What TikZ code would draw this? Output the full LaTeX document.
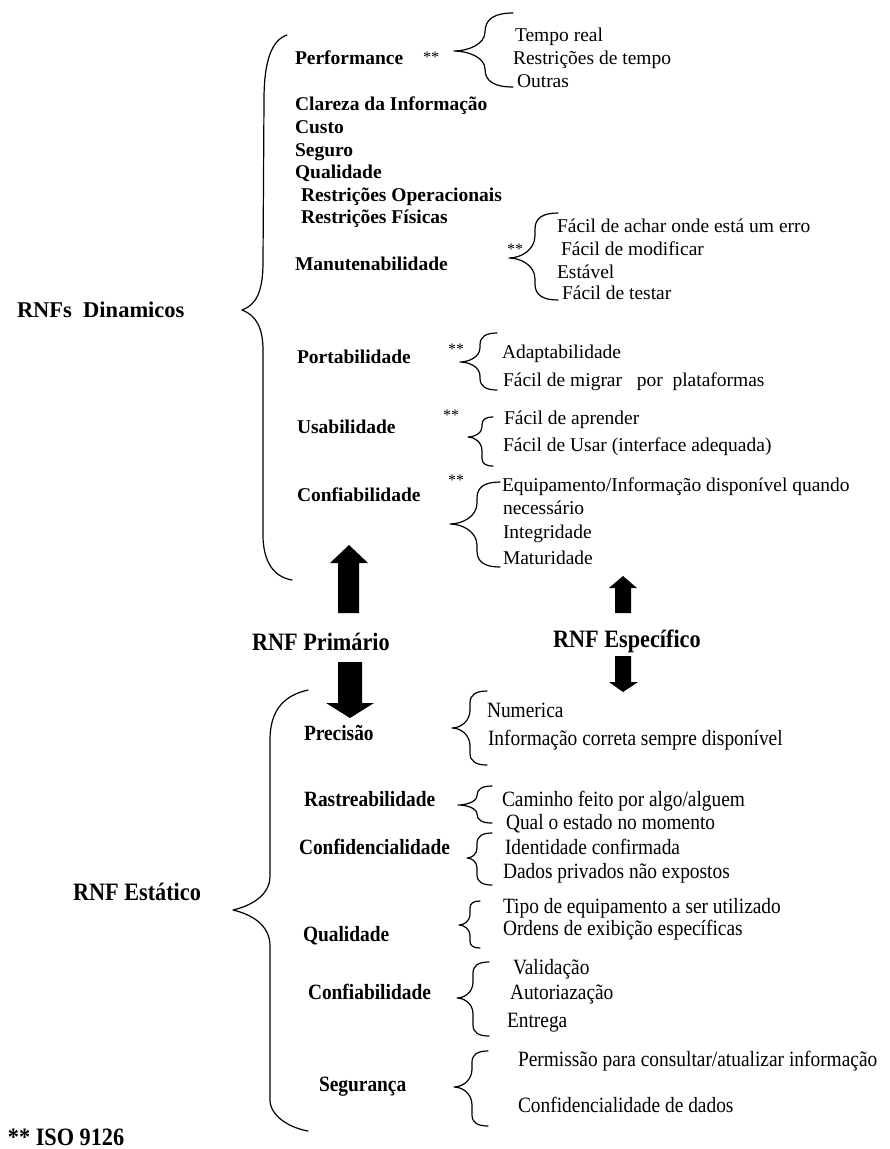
\documentclass[tikz,border=0pt]{standalone}
\usepackage{fontspec}
\setmainfont{Liberation Serif}
\newfontfamily\condserif[FakeStretch=0.89]{Liberation Serif}
\newcommand\drawbrace[6]{% xe, ytop, xvert, xtip, ymid, ybot
  \pgfmathsetmacro\brBW{#1-#3}%
  \pgfmathsetmacro\brTW{#3-#4}%
  \pgfmathsetmacro\brCA{min(0.7*\brBW,(#5-#2)/2)}%
  \pgfmathsetmacro\brCB{min(0.7*\brBW,(#6-#5)/2)}%
  \pgfmathsetmacro\brTA{min(\brTW,(#5-#2)/2)}%
  \pgfmathsetmacro\brTB{min(\brTW,(#6-#5)/2)}%
  \draw[bracestyle] (#1,#2) .. controls (#3+0.35*\brBW,#2) and (#3,#2+0.3*\brCA) .. (#3,#2+\brCA)
    -- (#3,#5-\brTA) .. controls (#3,#5-0.35*\brTA) and (#4+0.45*\brTW,#5) .. (#4,#5)
    .. controls (#4+0.45*\brTW,#5) and (#3,#5+0.35*\brTB) .. (#3,#5+\brTB)
    -- (#3,#6-\brCB) .. controls (#3,#6-0.3*\brCB) and (#3+0.35*\brBW,#6) .. (#1,#6);
}
\begin{document}
\begin{tikzpicture}[x=1pt,y=-1pt,
  item/.style={anchor=base west, inner sep=0pt, outer sep=0pt, font=\fontsize{19.5}{23}\selectfont},
  cat/.style={item, font=\bfseries\fontsize{19.5}{23}\selectfont},
  head/.style={item, font=\bfseries\fontsize{22.5}{27}\selectfont},
  star/.style={item, font=\fontsize{16}{18}\selectfont},
  bitem/.style={item, font=\condserif\fontsize{21.8}{26}\selectfont},
  bcat/.style={item, font=\condserif\bfseries\fontsize{21.8}{26}\selectfont},
  bhead/.style={item, font=\condserif\bfseries\fontsize{25}{30}\selectfont},
  bracestyle/.style={line width=1.2pt, line cap=round, line join=round},
  blockarrow/.style={fill=black, draw=none}]
\useasboundingbox (0,0) rectangle (890,1149);

% ---------- RNFs Dinamicos ----------
\node[head] (dyn) at (17,317.5) {RNFs~ Dinamicos};
\draw[bracestyle] (287,35) .. controls (272,40) and (264,60) .. (264,100)
  -- (263,262) .. controls (263,292) and (256,305) .. (242,310)
  .. controls (256,315) and (263,328) .. (263,350)
  -- (263,535) .. controls (263,562) and (274,577) .. (292,580);

\node[cat] (perf) at (295,64.5) {Performance};
\node[star] (s1) at (423,62) {**};
\drawbrace{513}{13}{485}{454}{51}{87}
\node[item] (p1) at (515,41.5) {Tempo real};
\node[item] (p2) at (513,64.5) {Restrições de tempo};
\node[item] (p3) at (517,87.5) {Outras};

\node[cat] (clar) at (295,110.5) {Clareza da Informação};
\node[cat] (cust) at (295,133.5) {Custo};
\node[cat] (segu) at (295,156.5) {Seguro};
\node[cat] (qual1) at (295,178.5) {Qualidade};
\node[cat] (rop) at (301,201.5) {Restrições Operacionais};
\node[cat] (rfi) at (301,223.5) {Restrições Físicas};

\node[cat] (manu) at (295,270.5) {Manutenabilidade};
\node[star] (s2) at (507,254) {**};
\drawbrace{558}{213}{535}{509}{258}{300}
\node[item] (m1) at (557,232.5) {Fácil de achar onde está um erro};
\node[item] (m2) at (561,255.5) {Fácil de modificar};
\node[item] (m3) at (557,278.5) {Estável};
\node[item] (m4) at (562,299.5) {Fácil de testar};

\node[cat] (port) at (297,363.5) {Portabilidade};
\node[star] (s3) at (448,354) {**};
\drawbrace{497}{333}{480}{460}{362}{390}
\node[item] (po1) at (502,358.5) {Adaptabilidade};
\node[item] (po2) at (503,386.5) {Fácil de migrar~~ por~ plataformas};

\node[cat] (usab) at (297,433.5) {Usabilidade};
\node[star] (s4) at (443,420) {**};
\drawbrace{493}{417}{482}{468}{437}{466}
\node[item] (u1) at (504,424.5) {Fácil de aprender};
\node[item] (u2) at (503,451.5) {Fácil de Usar (interface adequada)};

\node[cat] (conf1) at (297,501.5) {Confiabilidade};
\node[star] (s5) at (448,485) {**};
\drawbrace{500}{482}{477}{450}{524}{567}
\node[item] (c1) at (502,491.5) {Equipamento/Informação disponível quando};
\node[item] (c1b) at (503,514.5) {necessário};
\node[item] (c2) at (503,538.5) {Integridade};
\node[item] (c3) at (503,564.5) {Maturidade};

% ---------- arrows and middle headings ----------
\fill[blockarrow] (349,545) -- (368,563) -- (359,563) -- (359,613) -- (338,613) -- (338,563) -- (330,563) -- cycle;
\fill[blockarrow] (623,576) -- (637,588) -- (631,588) -- (631,613) -- (615,613) -- (615,588) -- (609,588) -- cycle;
\node[bhead] (prim) at (252,650) {RNF Primário};
\node[bhead] (espe) at (553,647) {RNF Específico};
\fill[blockarrow] (350,718) -- (374,703) -- (362,703) -- (362,662) -- (338,662) -- (338,703) -- (326,703) -- cycle;
\fill[blockarrow] (623,692) -- (638,682) -- (631,682) -- (631,656) -- (615,656) -- (615,682) -- (609,682) -- cycle;

% ---------- RNF Estatico ----------
\node[bhead] (esta) at (73,900.5) {RNF Estático};
\draw[bracestyle] (308,690) .. controls (286,695) and (270,708) .. (270,740)
  -- (270,876) .. controls (270,896) and (250,906) .. (233,910)
  .. controls (250,914) and (270,924) .. (270,946)
  -- (270,1100) .. controls (270,1116) and (290,1128) .. (308,1131);

\node[bcat] (prec) at (304,740.3) {Precisão};
\drawbrace{487}{691}{470}{452}{728}{765}
\node[bitem] (pr1) at (487,717.3) {Numerica};
\node[bitem] (pr2) at (488,745.3) {Informação correta sempre disponível};

\node[bcat] (rast) at (304,806.3) {Rastreabilidade};
\drawbrace{492}{786}{477}{458}{805}{823}
\node[bitem] (r1) at (502,806.3) {Caminho feito por algo/alguem};
\node[bitem] (r2) at (506,829.3) {Qual o estado no momento};

\node[bcat] (cfd) at (299,854.3) {Confidencialidade};
\drawbrace{492}{833}{477}{467}{858}{885}
\node[bitem] (cf1) at (505,854.3) {Identidade confirmada};
\node[bitem] (cf2) at (503,878.3) {Dados privados não expostos};

\node[bcat] (qual2) at (303,941.3) {Qualidade};
\drawbrace{480}{901}{470}{459}{925}{948}
\node[bitem] (q1) at (503,913.3) {Tipo de equipamento a ser utilizado};
\node[bitem] (q2) at (503,935.3) {Ordens de exibição específicas};

\node[bcat] (conf2) at (308,999.3) {Confiabilidade};
\drawbrace{489}{962}{473}{457}{998}{1036}
\node[bitem] (cb1) at (513,974.3) {Validação};
\node[bitem] (cb2) at (510,999.3) {Autoriazação};
\node[bitem] (cb3) at (507,1027.3) {Entrega};

\node[bcat] (segr) at (319,1091.3) {Segurança};
\drawbrace{488}{1051}{472}{454}{1087}{1126}
\node[bitem] (sg1) at (518,1066.3) {Permissão para consultar/atualizar informação};
\node[bitem] (sg2) at (518,1112.3) {Confidencialidade de dados};

\node[bhead] (iso) at (8,1145) {** ISO 9126};
\end{tikzpicture}
\end{document}
